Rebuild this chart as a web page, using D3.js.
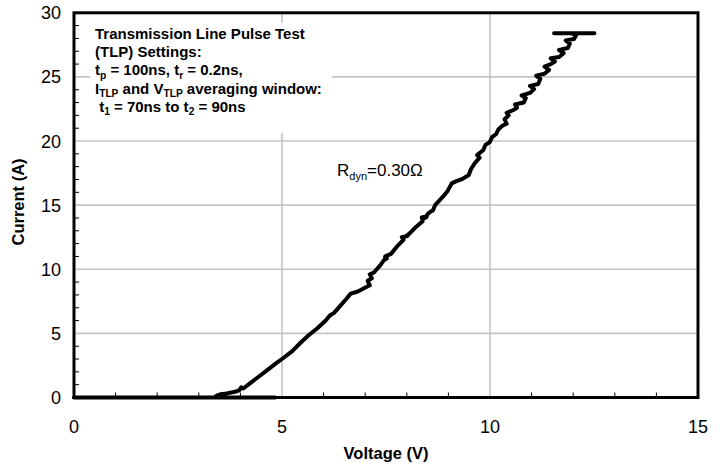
<!DOCTYPE html>
<html><head><meta charset="utf-8">
<script src="https://cdn.jsdelivr.net/npm/d3@7"></script>
<style>
body{margin:0;background:#fff}
svg{display:block}
text{font-family:"Liberation Sans",Arial,Helvetica,sans-serif;white-space:pre}
</style>
</head><body>
<svg id="c" width="722" height="467"></svg>
<script>
// TLP trace (Voltage V, Current A)
const voltage = [0,4.83,3.37,3.42,3.52,3.67,3.87,3.97,4.02,4.07,4.23,4.43,4.63,4.83,5.04,5.24,5.44,5.64,5.85,6.05,
  6.15,6.25,6.40,6.55,6.65,6.81,6.96,7.11,7.06,7.16,7.11,7.21,7.36,7.46,7.52,7.48,7.62,7.77,7.92,7.88,8.02,7.97,8.07,8.22,
  8.38,8.36,8.48,8.43,8.53,8.63,8.68,8.78,8.88,8.98,9.08,9.18,9.34,9.49,9.54,9.64,9.75,9.69,9.84,9.89,9.99,10.05,
  10.15,10.20,10.30,10.40,10.35,10.45,10.40,10.55,10.65,10.60,10.81,10.86,10.76,10.96,11.06,10.96,11.16,11.21,11.11,11.31,
  11.42,11.31,11.46,11.56,11.46,11.66,11.77,11.66,11.87,11.92,11.82,12.02,12.07,11.97,11.54,12.51];
const current = [0,0,0,0.12,0.25,0.32,0.45,0.55,0.80,0.70,1.10,1.60,2.10,2.60,3.10,3.60,4.25,4.85,5.40,6.00,
  6.40,6.60,7.15,7.70,8.10,8.25,8.50,8.75,9.10,9.30,9.60,9.75,10.30,10.75,10.85,11.00,11.20,11.80,12.30,12.50,12.60,12.55,12.80,13.30,
  13.75,14.05,14.10,14.00,14.40,14.60,15.00,15.35,15.70,16.10,16.70,16.85,17.05,17.35,17.80,18.30,18.70,18.90,19.30,19.70,19.90,20.30,
  20.55,20.90,21.20,21.35,21.70,22.00,22.20,22.40,22.60,22.85,23.00,23.35,23.55,23.75,24.05,24.30,24.45,24.85,25.10,25.25,
  25.55,25.80,26.00,26.20,26.45,26.55,26.85,27.10,27.25,27.60,27.85,27.95,28.25,28.40,28.40,28.40];

const xTicks = [0,5,10,15];
const yTicks = [0,5,10,15,20,25,30];
const xMinor = [1,2,3,4,6,7,8,9,11,12,13,14];
const yMinor = [1,2,3,4,6,7,8,9,11,12,13,14,16,17,18,19,21,22,23,24,26,27,28,29];
const xTitle = "Voltage (V)";
const yTitle = "Current (A)";
const settingsText = [
  [["Transmission Line Pulse Test"]],
  [["(TLP) Settings:"]],
  [["t"],["p",1],[" = 100ns, t"],["r",1],[" = 0.2ns,"]],
  [["I"],["TLP",1],[" and V"],["TLP",1],[" averaging window:"]],
  [[" t"],["1",1],[" = 70ns to t"],["2",1],[" = 90ns"]]
];
const rdynText = [["R"],["dyn",1],["=0.30Ω"]];

const svg = d3.select("#c");
const x = d3.scaleLinear().domain([0,15]).range([74,698]);
const y = d3.scaleLinear().domain([0,30]).range([397.5,12.8]);
const gridColor = "#c4c4c4";

// gridlines
svg.append("g").selectAll("line").data(xTicks.filter(d=>d>0&&d<15)).join("line")
  .attr("x1",d=>x(d)).attr("x2",d=>x(d)).attr("y1",y(0)).attr("y2",y(30))
  .attr("stroke",gridColor).attr("stroke-width",1.6);
svg.append("g").selectAll("line").data(yTicks.filter(d=>d>0&&d<30)).join("line")
  .attr("y1",d=>y(d)).attr("y2",d=>y(d)).attr("x1",x(0)).attr("x2",x(15))
  .attr("stroke",gridColor).attr("stroke-width",1.6);

// minor ticks (inside)
svg.append("g").selectAll("line").data(xMinor).join("line")
  .attr("x1",d=>x(d)).attr("x2",d=>x(d)).attr("y1",y(0)).attr("y2",y(0)-5)
  .attr("stroke","#000").attr("stroke-width",1);
svg.append("g").selectAll("line").data(yMinor).join("line")
  .attr("y1",d=>y(d)).attr("y2",d=>y(d)).attr("x1",x(0)).attr("x2",x(0)+5)
  .attr("stroke","#000").attr("stroke-width",1);

// settings box (white background)
svg.append("rect").attr("x",90).attr("y",23).attr("width",242).attr("height",110).attr("fill","#fff");

// trace
const pts = voltage.map((v,i)=>[v,current[i]]);
svg.append("path").datum(pts)
  .attr("d",d3.line().x(d=>x(d[0])).y(d=>y(d[1])))
  .attr("fill","none").attr("stroke","#000").attr("stroke-width",4)
  .attr("stroke-linejoin","round").attr("stroke-linecap","round");

// frame
svg.append("rect").attr("x",x(0)).attr("y",y(30)).attr("width",x(15)-x(0)).attr("height",y(0)-y(30))
  .attr("fill","none").attr("stroke","#000").attr("stroke-width",3);

// tick labels
svg.append("g").selectAll("text").data(xTicks).join("text")
  .attr("x",d=>x(d)).attr("y",433).attr("text-anchor","middle")
  .attr("font-size",18).text(d=>d);
svg.append("g").selectAll("text").data(yTicks).join("text")
  .attr("x",61).attr("y",d=>y(d)+6.5).attr("text-anchor","end")
  .attr("font-size",18).text(d=>d);

// axis titles
svg.append("text").attr("x",386).attr("y",459).attr("text-anchor","middle")
  .attr("font-size",16.5).attr("font-weight","bold").text(xTitle);
svg.append("text").attr("transform","translate(24,202) rotate(-90)").attr("text-anchor","middle")
  .attr("font-size",16.5).attr("font-weight","bold").text(yTitle);

function rich(sel, parts, size, subSize, shift){
  let sub=false;
  parts.forEach(p=>{
    const t = sel.append("tspan").text(p[0]);
    if(p[1]){ t.attr("font-size",subSize).attr("dy",sub?0:shift); sub=true; }
    else { t.attr("font-size",size); if(sub){ t.attr("dy",-shift); sub=false; } }
  });
}
settingsText.forEach((line,i)=>{
  const t = svg.append("text").attr("x",95).attr("y",39+i*18.2).attr("font-weight","bold");
  rich(t,line,15,10.2,3.5);
});
const rd = svg.append("text").attr("x",337).attr("y",176);
rich(rd,rdynText,17,11,4);
</script>
</body></html>
